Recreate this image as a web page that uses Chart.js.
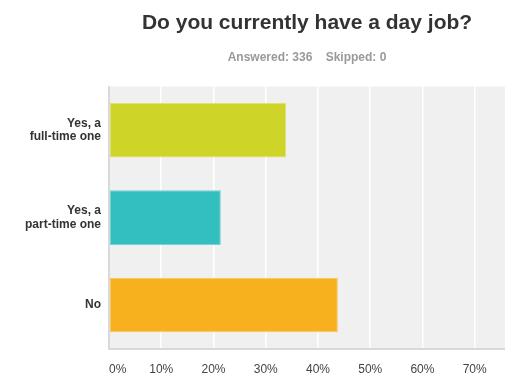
<!DOCTYPE html>
<html>
<head>
<meta charset="utf-8">
<script src="https://cdn.jsdelivr.net/npm/chart.js@4.4.0/dist/chart.umd.min.js"></script>
<style>
  html, body { margin: 0; padding: 0; background: #fff; }
  #wrap { width: 505px; height: 388px; }
</style>
</head>
<body>
<div id="wrap"><canvas id="myChart"></canvas></div>
<script>
// answer options (multi-line labels) and share of respondents, in %
const categories = [['Yes, a', 'full-time one'], ['Yes, a', 'part-time one'], 'No'];
const percents = [33.9, 21.4, 43.8];
const barColors = ['#cfd428', '#33bec0', '#f7b01e'];
const barEdges = ['#dfe270', '#74d2d3', '#f9c760'];
const tickStep = 10;
const axisMax = 75.8;

const FONT = '"Liberation Sans", Arial, Helvetica, sans-serif';

// grey plot background behind the bars
const plotBg = {
  id: 'plotBg',
  beforeDraw(chart) {
    const {ctx, chartArea: a} = chart;
    ctx.save();
    ctx.fillStyle = '#f0f0f0';
    ctx.fillRect(a.left, a.top, a.right - a.left, a.bottom - a.top);
    ctx.restore();
  }
};

new Chart('myChart', {
  type: 'bar',
  data: {
    labels: categories,
    datasets: [{
      data: percents,
      backgroundColor: barColors,
      borderColor: barEdges,
      borderWidth: 1,
      borderSkipped: false,
      barPercentage: 0.625,
      categoryPercentage: 1
    }]
  },
  options: {
    indexAxis: 'y',
    responsive: true,
    maintainAspectRatio: false,
    animation: false,
    layout: {padding: {top: 0, right: 0, bottom: 11, left: 0}},
    scales: {
      x: {
        min: 0,
        max: axisMax,
        // blank end tick so 'inner' alignment only moves the 0% label
        afterBuildTicks: s => { s.ticks.push({value: axisMax}); },
        grid: {
          color: c => (c.tick && c.tick.value % tickStep === 0 ? '#ffffff' : 'transparent'),
          lineWidth: 1.5,
          drawTicks: true,
          tickLength: 14,
          tickColor: 'transparent'
        },
        border: {color: '#d9d9d9', width: 2},
        ticks: {
          stepSize: tickStep,
          includeBounds: false,
          align: 'inner',
          padding: 0,
          color: '#444',
          font: {family: FONT, size: 12},
          callback: v => (v % tickStep === 0 ? v + '%' : '')
        }
      },
      y: {
        grid: {display: false, drawTicks: true, tickLength: 8},
        border: {color: '#d9d9d9', width: 2},
        afterFit: s => { s.width = 109; },
        ticks: {
          padding: 0,
          color: '#333',
          font: {family: FONT, size: 12, weight: 'bold', lineHeight: 1.15}
        }
      }
    },
    plugins: {
      legend: {display: false},
      tooltip: {enabled: false},
      title: {
        display: true,
        text: 'Do you currently have a day job?',
        fullSize: false,
        color: '#333',
        font: {family: FONT, size: 21, weight: 'bold'},
        padding: {top: 11, bottom: 8}
      },
      subtitle: {
        display: true,
        text: 'Answered: 336    Skipped: 0',
        fullSize: false,
        color: '#999',
        font: {family: FONT, size: 12, weight: 'bold'},
        padding: {top: 6, bottom: 22}
      }
    }
  },
  plugins: [plotBg]
});
</script>
</body>
</html>
